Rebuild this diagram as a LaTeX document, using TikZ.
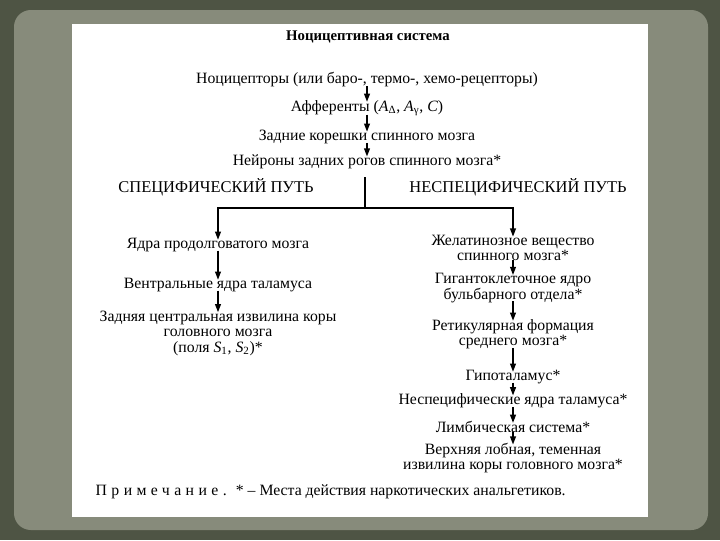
\documentclass[tikz,border=0pt]{standalone}
\usepackage{fontspec}
\setmainfont{Liberation Serif}
\newfontfamily\spacedfont[LetterSpace=28]{Liberation Serif}
\usetikzlibrary{arrows.meta,positioning}
\definecolor{frameDark}{HTML}{4E5444}
\definecolor{frameLight}{HTML}{878B7B}

\begin{document}
\begin{tikzpicture}[
    x=0.025cm, y=-0.025cm,
    every node/.style={font=\fontsize{11.2}{11}\selectfont, inner sep=1pt, inner ysep=0pt, align=center},
    heading/.style={font=\fontsize{11.7}{12}\selectfont},
    flow/.style={-{Triangle[length=6pt,width=4pt]}, line width=1.4pt, shorten <=-1pt, shorten >=-1.5pt},
    trunk/.style={line width=1.4pt}
  ]
  % frame and page
  \fill[frameDark] (0,0) rectangle (720,540);
  \fill[frameLight, rounded corners=12pt] (14,10) rectangle (708,530);
  \fill[white] (72,24) rectangle (648,517);
  \useasboundingbox (0,0) rectangle (720,540);

  % common part
  \node[font=\bfseries\fontsize{10.5}{11}\selectfont] (title) at (368,37) {Ноцицептивная система};
  \node (noci) at (367,80) {Ноцицепторы (или баро-, термо-, хемо-рецепторы)};
  \node (aff) at (367,108) {Афференты (\textit{A}\textsubscript{Δ}, \textit{A}\textsubscript{γ}, \textit{C})};
  \node (kor) at (367,137) {Задние корешки спинного мозга};
  \node (neur) at (367,162) {Нейроны задних рогов спинного мозга*};
  \node[heading] (spec) at (216,187) {СПЕЦИФИЧЕСКИЙ ПУТЬ};
  \node[heading] (nonspec) at (518,187) {НЕСПЕЦИФИЧЕСКИЙ ПУТЬ};
  \coordinate (trunktop) at (365,177);
  \coordinate (split) at (365,208);

  % specific path
  \node (l1) at (218,245) {Ядра продолговатого мозга};
  \node (l2) at (218,285) {Вентральные ядра таламуса};
  \node (l3) at (218,333) {Задняя центральная извилина коры\\головного мозга\\(поля \textit{S}\textsubscript{1}, \textit{S}\textsubscript{2})*};

  % nonspecific path
  \node (r1) at (513,248) {Желатинозное вещество\\спинного мозга*};
  \node (r2) at (513,288) {Гигантоклеточное ядро\\бульбарного отдела*};
  \node (r3) at (513,334) {Ретикулярная формация\\среднего мозга*};
  \node (r4) at (513,377) {Гипоталамус*};
  \node (r5) at (513,401) {Неспецифические ядра таламуса*};
  \node (r6) at (513,427) {Лимбическая система*};
  \node (r7) at (513,458) {Верхняя лобная, теменная\\извилина коры головного мозга*};

  \node[anchor=west] (note) at (94,492) {{\spacedfont Примечание.} \ * -- Места действия наркотических анальгетиков.};

  % connectors
  \draw[flow] (noci) -- (aff);
  \draw[flow] (aff) -- (kor);
  \draw[flow] (kor) -- (neur);
  \draw[trunk] (trunktop) -- (split);
  \draw[flow] (split) -| (l1);
  \draw[flow] (split) -| (r1);
  \draw[flow] (l1) -- (l2);
  \draw[flow] (l2) -- (l3);
  \foreach \a/\b in {r1/r2, r2/r3, r3/r4, r4/r5, r5/r6, r6/r7}
    \draw[flow] (\a) -- (\b);
\end{tikzpicture}
\end{document}
